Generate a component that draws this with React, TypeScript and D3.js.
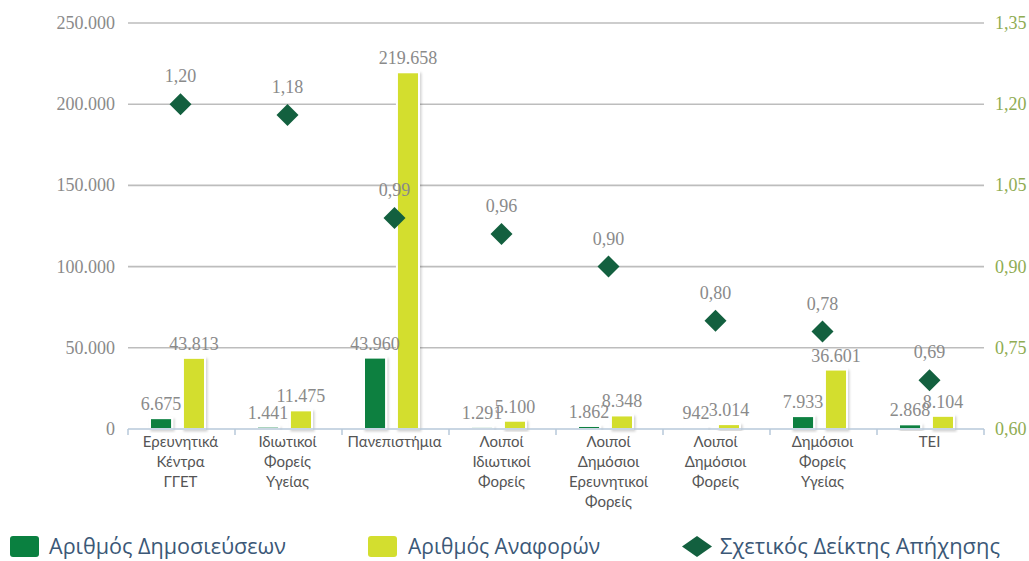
import React from "react";
import * as d3 from "d3";

const categories = [
  ["Ερευνητικά", "Κέντρα", "ΓΓΕΤ"],
  ["Ιδιωτικοί", "Φορείς", "Υγείας"],
  ["Πανεπιστήμια"],
  ["Λοιποί", "Ιδιωτικοί", "Φορείς"],
  ["Λοιποί", "Δημόσιοι", "Ερευνητικοί", "Φορείς"],
  ["Λοιποί", "Δημόσιοι", "Φορείς"],
  ["Δημόσιοι", "Φορείς", "Υγείας"],
  ["ΤΕΙ"],
];
const publications = [6675, 1441, 43960, 1291, 1862, 942, 7933, 2868];
const citations = [43813, 11475, 219658, 5100, 8348, 3014, 36601, 8104];
const impactIndex = [1.2, 1.18, 0.99, 0.96, 0.9, 0.8, 0.78, 0.69];
const leftTicks = [0, 50000, 100000, 150000, 200000, 250000];
const rightTicks = [0.6, 0.75, 0.9, 1.05, 1.2, 1.35];
const seriesNames = ["Αριθμός Δημοσιεύσεων", "Αριθμός Αναφορών", "Σχετικός Δείκτης Απήχησης"];

const DARK = "#0a8040";
const LIME = "#d3de2f";
const DIAMOND = "#13603f";
const GRID = "#bdbdbd";
const LABEL = "#8a8a8a";
const SERIF = "'Liberation Serif', serif";
const SANS = "Lato, 'Noto Sans', sans-serif";
const LEGEND_FONT = "'Open Sans', 'Noto Sans', sans-serif";

const grLocale = d3.formatLocale({ decimal: ",", thousands: ".", grouping: [3], currency: ["", "€"] });
const fmtInt = grLocale.format(",d");
const fmt2 = grLocale.format(".2f");

export default function App() {
  const width = 1029;
  const height = 561;
  const left = 128;
  const right = 984;
  const top = 23;
  const bottom = 429;

  const idx = categories.map((_, i) => String(i));
  const x0 = d3.scaleBand().domain(idx).range([left, right]);
  const x1 = d3.scaleBand().domain(["pub", "cit"]).range([24, 79]).paddingInner(0.33);
  const yL = d3.scaleLinear().domain([0, 250000]).range([bottom, top]);
  const yR = d3.scaleLinear().domain([0.6, 1.35]).range([bottom, top]);
  const diamond = "M0,-11L11,0L0,11L-11,0Z";

  const bars = idx.flatMap((c, i) => [
    { key: "pub", c, v: publications[i], color: DARK },
    { key: "cit", c, v: citations[i], color: LIME },
  ]);

  const legend = [
    { name: seriesNames[0], x: 10, tx: 49, len: 237, color: DARK, shape: "rect" },
    { name: seriesNames[1], x: 368, tx: 408, len: 192, color: LIME, shape: "rect" },
    { name: seriesNames[2], x: 682, tx: 720, len: 280, color: DIAMOND, shape: "diamond" },
  ];

  return (
    <svg width={width} height={height} style={{ position: "absolute", left: 0, top: 0 }}>
      <defs>
        <filter id="shadow" x="-30%" y="-30%" width="160%" height="160%">
          <feDropShadow dx="1.5" dy="1.5" stdDeviation="1.2" floodColor="#000" floodOpacity="0.18" />
        </filter>
      </defs>
      <rect width={width} height={height} fill="#fff" />

      {/* gridlines */}
      {leftTicks.filter((t) => t > 0).map((t) => (
        <line key={t} x1={left} x2={right} y1={yL(t)} y2={yL(t)} stroke={GRID} strokeWidth={1.6} />
      ))}

      {/* left axis labels */}
      {leftTicks.map((t) => (
        <text key={t} x={115} y={yL(t) + 6} textAnchor="end" fontFamily={SERIF} fontSize={18} fill={LABEL}>
          {fmtInt(t)}
        </text>
      ))}

      {/* right axis labels */}
      {rightTicks.map((t) => (
        <text key={t} x={995} y={yR(t) + 6} fontFamily={SERIF} fontSize={18} fill="#8fac52">
          {fmt2(t)}
        </text>
      ))}

      {/* bars */}
      {bars.map((b) => (
        <rect
          key={b.key + b.c}
          x={(x0(b.c) as number) + (x1(b.key) as number) - 2}
          y={yL(b.v)}
          width={x1.bandwidth()}
          height={bottom - yL(b.v)}
          fill={b.color}
          stroke="#fff"
          strokeWidth={2}
          filter="url(#shadow)"
        />
      ))}

      {/* x axis */}
      <line x1={left} x2={right} y1={bottom} y2={bottom} stroke="#b7c8da" strokeWidth={1.5} />
      {d3.range(categories.length + 1).map((i) => {
        const xx = left + i * x0.bandwidth();
        return <line key={i} x1={xx} x2={xx} y1={bottom} y2={bottom + 6} stroke="#b7c8da" strokeWidth={1.5} />;
      })}

      {/* bar labels */}
      {bars.map((b) => (
        <text
          key={"l" + b.key + b.c}
          x={(x0(b.c) as number) + (x1(b.key) as number) - 2 + x1.bandwidth() / 2}
          y={yL(b.v) - 8}
          textAnchor="middle"
          fontFamily={SERIF}
          fontSize={18}
          fill={LABEL}
        >
          {fmtInt(b.v)}
        </text>
      ))}

      {/* diamonds */}
      {idx.map((c, i) => {
        const cx = (x0(c) as number) + x0.bandwidth() / 2 - 1;
        const cy = yR(impactIndex[i]);
        return (
          <g key={"d" + c}>
            <path d={diamond} transform={`translate(${cx},${cy})`} fill={DIAMOND} />
            <text x={cx} y={cy - 22} textAnchor="middle" fontFamily={SERIF} fontSize={18} fill={LABEL}>
              {fmt2(impactIndex[i])}
            </text>
          </g>
        );
      })}

      {/* category labels */}
      {categories.map((lines, i) => (
        <text key={"c" + i} textAnchor="middle" fontFamily={SANS} fontSize={15} fill="#555">
          {lines.map((ln, j) => (
            <tspan key={j} x={(x0(String(i)) as number) + x0.bandwidth() / 2 - 1} y={447 + j * 20}>
              {ln}
            </tspan>
          ))}
        </text>
      ))}

      {/* legend */}
      {legend.map((l) => (
        <g key={l.name}>
          {l.shape === "rect" ? (
            <rect x={l.x} y={536} width={29} height={21} rx={3} fill={l.color} />
          ) : (
            <path d="M0,-10.5L15,0L0,10.5L-15,0Z" transform={`translate(${l.x + 15},546.5)`} fill={l.color} />
          )}
          <text
            x={l.tx}
            y={554}
            fontFamily={LEGEND_FONT}
            fontSize={21}
            fill="#3b5877"
            textLength={l.len}
            lengthAdjust="spacingAndGlyphs"
          >
            {l.name}
          </text>
        </g>
      ))}
    </svg>
  );
}
